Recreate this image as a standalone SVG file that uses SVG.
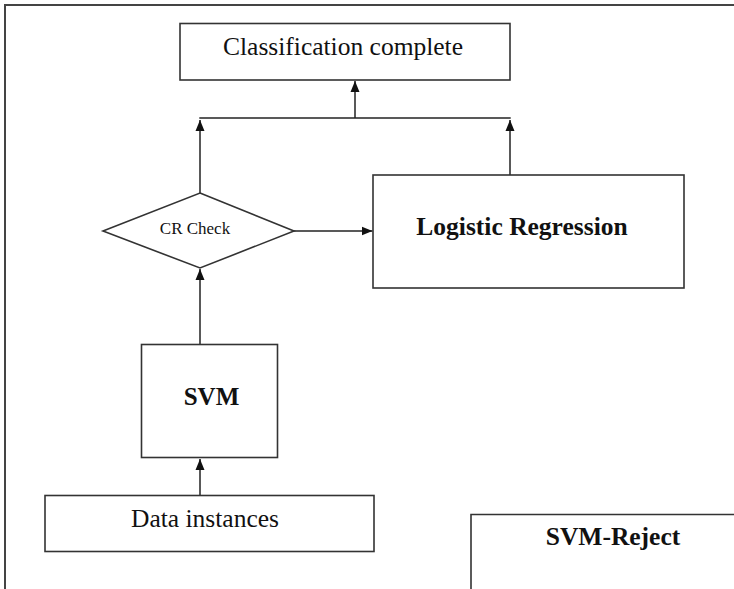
<svg xmlns="http://www.w3.org/2000/svg" width="734" height="589" viewBox="0 0 734 589">
<defs>
<style>
.box{fill:#fff;stroke:#333;stroke-width:1.6}
.ln{fill:none;stroke:#222;stroke-width:1.5}
.t{font-family:"Liberation Serif","Times New Roman",serif;fill:#111;text-anchor:middle}
.b{font-weight:bold}
</style>
<marker id="ah" markerUnits="userSpaceOnUse" markerWidth="12" markerHeight="10" refX="11" refY="5" orient="auto">
<path d="M0,0.5 L11,5 L0,9.5 z" fill="#111"/>
</marker>
</defs>
<rect width="734" height="589" fill="#fff"/>
<path d="M5,589 V5 H734" fill="none" stroke="#444" stroke-width="2"/>
<g id="connectors">
<line class="ln" x1="199.3" y1="118" x2="510.7" y2="118"/>
<line class="ln" x1="200" y1="193" x2="200" y2="120" marker-end="url(#ah)"/>
<line class="ln" x1="510" y1="175" x2="510" y2="120" marker-end="url(#ah)"/>
<line class="ln" x1="355" y1="118" x2="355" y2="81" marker-end="url(#ah)"/>
<line class="ln" x1="294" y1="231" x2="372.5" y2="231" marker-end="url(#ah)"/>
<line class="ln" x1="200" y1="345" x2="200" y2="269" marker-end="url(#ah)"/>
<line class="ln" x1="200" y1="496" x2="200" y2="459" marker-end="url(#ah)"/>
</g>
<g id="classification">
<rect class="box" x="180" y="23.5" width="330" height="56.5"/>
<text class="t" x="343" y="55" font-size="25.5">Classification complete</text>
</g>
<g id="crcheck">
<polygon class="box" points="200,193 294,231 200,268 103,231"/>
<text class="t" x="195" y="234" font-size="17">CR Check</text>
</g>
<g id="logistic">
<rect class="box" x="373" y="175" width="311" height="113"/>
<text class="t b" x="522" y="235" font-size="25.5">Logistic Regression</text>
</g>
<g id="svm">
<rect class="box" x="141.5" y="344.5" width="136" height="113"/>
<text class="t b" x="211.5" y="405" font-size="25">SVM</text>
</g>
<g id="data">
<rect class="box" x="45" y="495.5" width="329" height="56"/>
<text class="t" x="205" y="526.5" font-size="25.5">Data instances</text>
</g>
<g id="svmreject">
<path class="box" d="M471,590 V514.5 H735"/>
<text class="t b" x="613" y="545" font-size="25.5">SVM-Reject</text>
</g>
</svg>
